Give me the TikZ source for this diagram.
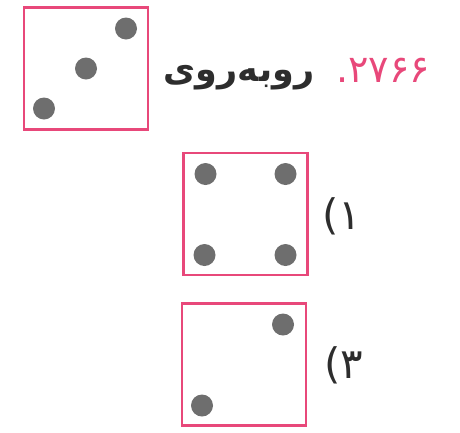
\documentclass[tikz,border=0pt]{standalone}
\usepackage{fontspec}
\newfontfamily\arabicfont[Script=Arabic]{DejaVu Sans}
\TeXXeTstate=1
\usetikzlibrary{positioning, calc}

\definecolor{diepink}{RGB}{232,72,122}
\definecolor{pipgray}{RGB}{110,110,110}
\definecolor{inkdark}{RGB}{45,45,45}

\begin{document}
\begin{tikzpicture}[x=1pt, y=-1pt,
			% stile per le facce del dado
			face/.style={draw=diepink, line width=2.6pt, minimum width=124pt, minimum height=122pt, inner sep=0pt},
			% stile per i punti
			pip/.style={circle, fill=pipgray, minimum size=22pt, inner sep=0pt},
			% stile per le scritte
			fatext/.style={font=\arabicfont\fontsize{42}{48}\selectfont, inner sep=0pt}
			]
			\useasboundingbox (0,0) rectangle (460,432);
			
			% --- FACCIA DI RIFERIMENTO ---
			\node [face] (ref) at (86,68.5) {};
			\node [pip] (ref-a) at ($(ref.center)+(40,-40)$) {};
			\node [pip] (ref-b) at (ref.center) {};
			\node [pip] (ref-c) at ($(ref.center)+(-42,40)$) {};
			
			\node [fatext, font=\arabicfont\bfseries\fontsize{35}{42}\selectfont, text=inkdark] (word) at (239,78) {\beginR روبه‌روی\endR};
			\node [fatext, font=\arabicfont\fontsize{38}{44}\selectfont, text=diepink] (num) at (383,70) {\beginR\beginL۲۷۶۶\endL.\endR};
			
			% --- OPZIONE 1 ---
			\node [face] (opt1) at (245.5,214) {};
			\node [pip] (opt1-a) at ($(opt1.center)+(-40,-40)$) {};
			\node [pip] (opt1-b) at ($(opt1.center)+(40,-40)$) {};
			\node [pip] (opt1-c) at ($(opt1.center)+(-41,41)$) {};
			\node [pip] (opt1-d) at ($(opt1.center)+(40,41)$) {};
			\node [fatext, text=inkdark] (lab1) at (342,216) {\beginR ۱)\endR};
			
			% --- OPZIONE 3 ---
			\node [face] (opt3) at (244,364.5) {};
			\node [pip] (opt3-a) at ($(opt3.center)+(39,-40)$) {};
			\node [pip] (opt3-b) at ($(opt3.center)+(-42,41)$) {};
			\node [fatext, text=inkdark] (lab3) at (343.5,365) {\beginR ۳)\endR};
			
		\end{tikzpicture}
\end{document}
